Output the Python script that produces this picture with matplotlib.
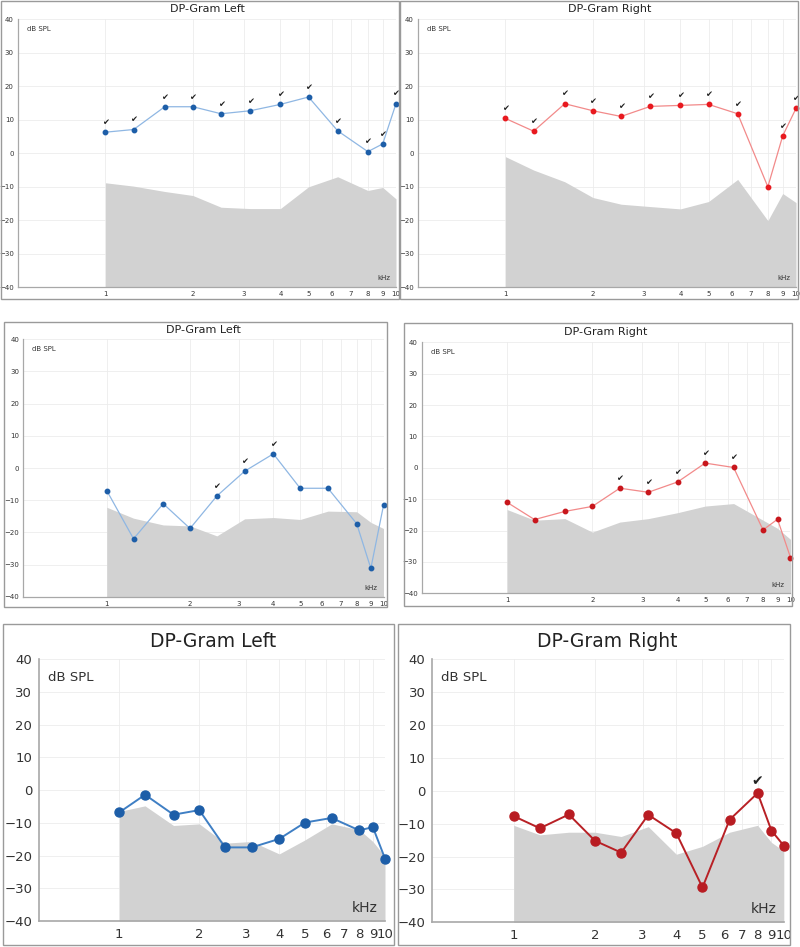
import matplotlib
matplotlib.use('Agg')
import matplotlib.pyplot as plt
from matplotlib.patches import Rectangle

plt.rcParams['font.family'] = ['DejaVu Sans']

# Frequencies (kHz)
freqs = [1, 1.25, 1.6, 2, 2.5, 3.15, 4, 5, 6.3, 8, 9, 10]

# Top row
top_left_resp = [6.3, 7.1, 13.9, 13.9, 11.8, 12.7, 14.6, 16.8, 6.7, 0.5, 2.8, 14.8]
top_left_noise = [-8.8, -9.8, -11.4, -12.6, -16.1, -16.5, -16.5, -10.0, -7.0, -11.1, -10.2, -13.6]
top_left_check = [1, 1, 1, 1, 1, 1, 1, 1, 1, 1, 1, 1]

top_right_resp = [10.4, 6.6, 14.8, 12.7, 11.0, 14.0, 14.3, 14.6, 11.8, -10.0, 5.2, 13.4]
top_right_noise = [-1.0, -5.0, -8.5, -13.2, -15.2, -15.9, -16.6, -14.4, -7.8, -20.1, -12.0, -14.7]
top_right_check = [1, 1, 1, 1, 1, 1, 1, 1, 1, 0, 1, 1]

# Middle row
mid_left_resp = [-7.0, -22.0, -11.1, -18.8, -8.7, -1.0, 4.4, -6.3, -6.3, -17.3, -31.2, -11.6]
mid_left_noise = [-12.2, -15.6, -17.7, -18.0, -21.1, -15.8, -15.4, -16.0, -13.4, -13.6, -16.9, -18.8]
mid_left_check = [0, 0, 0, 0, 1, 1, 1, 0, 0, 0, 0, 0]

mid_right_resp = [-11.0, -16.5, -13.9, -12.3, -6.5, -7.8, -4.5, 1.5, 0.1, -19.8, -16.4, -28.6]
mid_right_noise = [-13.3, -16.7, -16.2, -20.5, -17.3, -16.2, -14.3, -12.2, -11.4, -16.7, -19.3, -22.8]
mid_right_check = [0, 0, 0, 0, 1, 1, 1, 1, 1, 0, 0, 0]

# Bottom row
bot_left_resp = [-6.8, -1.4, -7.5, -6.1, -17.5, -17.5, -14.9, -9.9, -8.5, -12.3, -11.3, -20.9]
bot_left_noise = [-6.5, -4.8, -10.8, -10.3, -16.2, -15.7, -19.5, -15.2, -10.3, -12.1, -15.7, -20.3]
bot_left_check = [0] * 12

bot_right_resp = [-7.7, -11.4, -7.2, -15.2, -18.8, -7.3, -12.9, -29.4, -8.8, -0.7, -12.1, -16.7]
bot_right_noise = [-10.5, -13.4, -12.6, -12.6, -13.9, -10.9, -19.3, -16.9, -12.6, -10.5, -15.7, -18.3]
bot_right_check = [0, 0, 0, 0, 0, 0, 0, 0, 0, 1, 0, 0]

xticks = [1, 2, 3, 4, 5, 6, 7, 8, 9, 10]
yticks = [-40, -30, -20, -10, 0, 10, 20, 30, 40]

W, H = 800, 947
fig = plt.figure(figsize=(W / 100, H / 100), dpi=100)


def px_box(x0, y0, x1, y1):
    return [x0 / W, 1 - y1 / H, (x1 - x0) / W, (y1 - y0) / H]


def frame(x0, y0, x1, y1):
    fig.patches.append(Rectangle((x0 / W, 1 - y1 / H), (x1 - x0) / W, (y1 - y0) / H,
                                 transform=fig.transFigure, fill=False,
                                 edgecolor='#9a9a9a', linewidth=1.0))


def panel(box, resp, noise, checks, line_c, mark_c, big=False):
    ax = fig.add_axes(px_box(*box))
    ax.set_xscale('log')
    ax.set_xlim(0.5, 10)
    ax.set_ylim(-40, 40)
    ax.set_xticks(xticks)
    ax.set_xticks([], minor=True)
    ax.set_xticklabels([str(t) for t in xticks])
    ax.set_yticks(yticks)
    fs_tick = 9.5 if big else 5
    ax.tick_params(axis='both', length=0, labelsize=fs_tick, colors='#333333',
                   pad=5 if big else 3)
    ax.grid(True, color='#ececec', linewidth=0.6, zorder=0)
    ax.set_axisbelow(True)
    for s in ['top', 'right']:
        ax.spines[s].set_visible(False)
    for s in ['left', 'bottom']:
        ax.spines[s].set_color('#a8a8a8')
        ax.spines[s].set_linewidth(1.2 if big else 0.9)

    ax.fill_between(freqs, -40, noise, color='#d2d2d2', linewidth=0, zorder=1)
    ax.plot(freqs, resp, color=line_c, linewidth=1.4 if big else 0.9, zorder=3,
            marker='o', markersize=6.5 if big else 3.2, markerfacecolor=mark_c,
            markeredgecolor=mark_c, clip_on=False)
    for f, v, c in zip(freqs, resp, checks):
        if c:
            ax.annotate('\u2714', xy=(f, v), xytext=(0, 9 if big else 7),
                        textcoords='offset points', ha='center', va='center',
                        fontsize=10 if big else 6, color='#222222', zorder=4,
                        annotation_clip=False)

    ax.text(0.025, 0.93 if big else 0.963, 'dB SPL', transform=ax.transAxes,
            ha='left', va='center', fontsize=9.5 if big else 5, color='#333333')
    ax.text(0.98 if big else 0.984, 0.05 if big else 0.035, 'kHz', transform=ax.transAxes,
            ha='right', va='center', fontsize=10 if big else 5, color='#333333')
    return ax


# frames
frame(1, 1, 399, 299)
frame(400, 1, 798, 299)
frame(4, 322, 387, 607)
frame(404, 323, 792, 606)
frame(3, 624, 394, 945)
frame(398, 624, 790, 945)

panel((18, 19.3, 396, 287.3), top_left_resp, top_left_noise, top_left_check,
      '#8fb7e3', '#1d5ea8')
panel((418, 19.3, 796, 287.3), top_right_resp, top_right_noise, top_right_check,
      '#f28a8a', '#e8191f')
panel((23.4, 339.3, 383.5, 596.7), mid_left_resp, mid_left_noise, mid_left_check,
      '#8fb7e3', '#1d5ea8')
panel((421.7, 342.3, 790.5, 593.3), mid_right_resp, mid_right_noise, mid_right_check,
      '#f28a8a', '#c8161c')
panel((39.3, 659.3, 385, 921), bot_left_resp, bot_left_noise, bot_left_check,
      '#3f7fc4', '#1d5ea8', big=True)
panel((432.4, 659.3, 783.8, 922.3), bot_right_resp, bot_right_noise, bot_right_check,
      '#b82025', '#b81c22', big=True)

# titles
titles = [('DP-Gram Left', 207, 9, 8), ('DP-Gram Right', 610, 9, 8),
          ('DP-Gram Left', 203, 330, 8), ('DP-Gram Right', 606, 332, 8),
          ('DP-Gram Left', 213, 641, 13.5), ('DP-Gram Right', 607, 641, 13.5)]
for t, x, y, fs in titles:
    fig.text(x / W, 1 - y / H, t, ha='center', va='center', fontsize=fs, color='#222222')

fig.savefig('out.png', dpi=100)
